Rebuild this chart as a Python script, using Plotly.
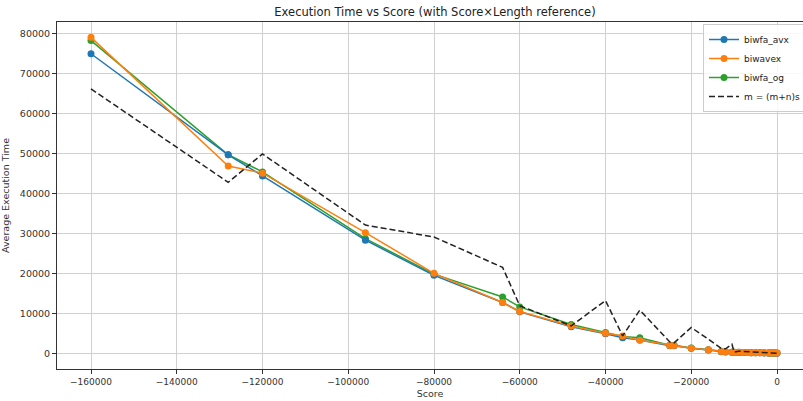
import plotly.graph_objects as go

scores = [-160000, -128000, -120000, -96000, -80000, -64000, -60000, -48000, -40000,
          -36000, -32000, -25000, -24000, -20000, -16000, -13000, -12000, -10500,
          -10000, -9000, -8000, -7000, -6000, -5000, -4000, -3000, -2000, -1500,
          -1000, -500, 0]

biwfa_avx = [75000, 49700, 44400, 28300, 19500, 12700, 10400, 6600, 4900,
             3850, 3300, 1900, 1900, 1250, 830, 400, 330, 250,
             230, 200, 180, 160, 140, 120, 100, 80, 60, 50,
             40, 30, 20]

biwavex = [79100, 46900, 45100, 30200, 20000, 12700, 10450, 6800, 5000,
           4300, 3260, 1950, 1950, 1250, 850, 420, 350, 270,
           250, 220, 200, 170, 150, 130, 110, 90, 70, 60,
           50, 40, 30]

biwfa_og = [78300, 49700, 45400, 28700, 19800, 14100, 11600, 7200, 5200,
            4200, 3850, 2000, 2000, 1300, 870, 430, 360, 270,
            250, 220, 200, 170, 150, 130, 110, 90, 70, 60,
            50, 40, 30]

reference = [66200, 42800, 49900, 32100, 29100, 21500, 11900, 6850, 13200,
             4350, 10800, 2830, 2600, 6440, 3500, 1200, 1100, 2250,
             300, 500, 450, 400, 350, 300, 250, 200, 150, 100,
             80, 50, 0]

series_names = ["biwfa_avx", "biwavex", "biwfa_og"]
series_values = [biwfa_avx, biwavex, biwfa_og]
series_colors = ["#1f77b4", "#ff7f0e", "#2ca02c"]
draw_order = [2, 0, 1]  # og under avx under wavex, legend order unchanged
ref_name = "m = (m+n)s"

x_ticks = [-160000, -140000, -120000, -100000, -80000, -60000, -40000, -20000, 0]
y_ticks = [0, 10000, 20000, 30000, 40000, 50000, 60000, 70000, 80000]

fig = go.Figure()
for i in draw_order:
    fig.add_trace(go.Scatter(
        x=scores, y=series_values[i], name=series_names[i], mode="lines+markers",
        line=dict(color=series_colors[i], width=1.5),
        marker=dict(color=series_colors[i], size=7),
        legendrank=i + 1,
    ))
fig.add_trace(go.Scatter(
    x=scores, y=reference, name=ref_name, mode="lines",
    line=dict(color="#222222", width=1.5, dash="6px,3px"),
    legendrank=4,
))

font_family = "DejaVu Sans"
fig.update_layout(
    width=803, height=401,
    margin=dict(l=57, r=0, t=22, b=32, autoexpand=False),
    paper_bgcolor="white", plot_bgcolor="white",
    font=dict(family=font_family, size=10, color="#333333"),
    title=dict(text="Execution Time vs Score (with Score×Length reference)",
               x=(435 - 57) / 746, xref="paper", xanchor="center",
               y=1 - 12 / 401, yref="container", yanchor="middle",
               font=dict(family=font_family, size=11.5, color="#222222")),
    legend=dict(x=(703 - 57) / 746, y=(369 - 24) / 347, xanchor="left", yanchor="top",
                bgcolor="rgba(255,255,255,0.85)", bordercolor="#cccccc", borderwidth=1,
                font=dict(family=font_family, size=9, color="#222222")),
    showlegend=True,
)
fig.update_xaxes(
    range=[-167930, 6064], tickvals=x_ticks, tickformat="d", automargin=False,
    showgrid=True, gridcolor="#d0d0d0", gridwidth=1,
    showline=True, linecolor="#333333", linewidth=1, mirror=True,
    ticks="outside", ticklen=4, tickcolor="#333333", zeroline=False,
    title=dict(text="Score", standoff=4, font=dict(size=9.5)),
    tickfont=dict(size=9),
)
fig.update_yaxes(
    range=[-3950, 82950], tickvals=y_ticks, tickformat="d", automargin=False,
    showgrid=True, gridcolor="#d0d0d0", gridwidth=1,
    showline=True, linecolor="#333333", linewidth=1, mirror=True,
    ticks="outside", ticklen=4, tickcolor="#333333", zeroline=False,
    title=dict(text="Average Execution Time", standoff=8, font=dict(size=9.5)),
    tickfont=dict(size=9.5),
)

fig.write_html("out.html", config={"displayModeBar": False},
               post_script="document.body.style.margin='0';document.body.style.overflow='hidden';")
